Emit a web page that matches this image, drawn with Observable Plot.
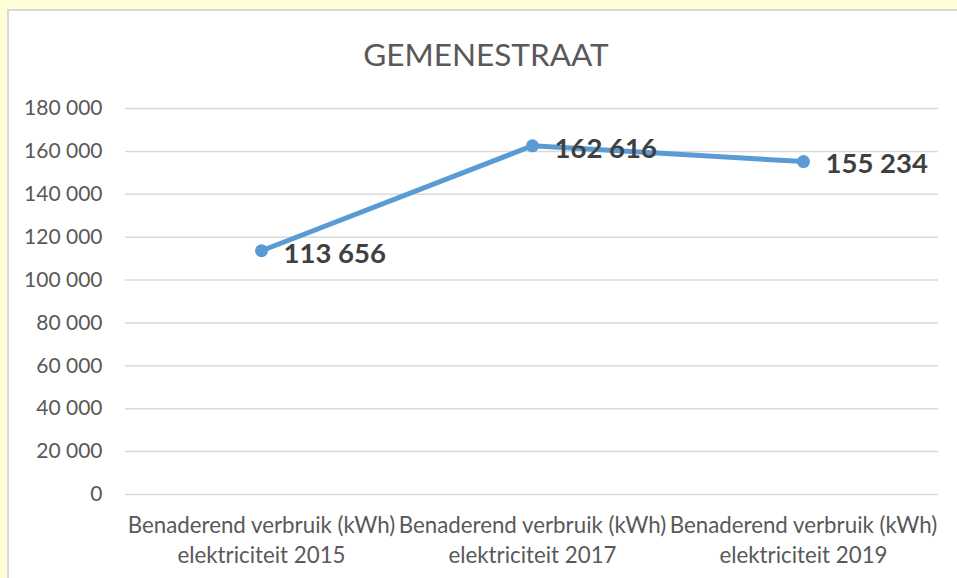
<!DOCTYPE html>
<html><head><meta charset="utf-8">
<script src="https://cdn.jsdelivr.net/npm/d3@7"></script>
<script src="https://cdn.jsdelivr.net/npm/@observablehq/plot@0.6"></script>
<style>
html,body{margin:0;padding:0;background:#FFFFD7;width:957px;height:578px;overflow:hidden;position:relative;}
#panel{position:absolute;left:7px;top:9px;width:980px;height:600px;background:#fff;border:2px solid #d9d9d9;box-sizing:border-box;}
#title{position:absolute;left:0;width:972px;top:35px;height:38px;line-height:38px;text-align:center;font-family:Lato,sans-serif;font-size:31.5px;color:#595959;}
#chart{position:absolute;left:0;top:0;}
</style>
</head><body>
<div id="panel"></div>
<div id="title">GEMENESTRAAT</div>
<div id="chart"></div>
<script>
const title = "GEMENESTRAAT";
const categories = [
  "Benaderend verbruik (kWh)\nelektriciteit 2015",
  "Benaderend verbruik (kWh)\nelektriciteit 2017",
  "Benaderend verbruik (kWh)\nelektriciteit 2019"
];
const values = [113656, 162616, 155234];
const yTicks = [0, 20000, 40000, 60000, 80000, 100000, 120000, 140000, 160000, 180000];

const fmt = d => d3.format(",")(d).replace(/,/g, " ");
const data = categories.map((c, i) => ({category: c, value: values[i]}));

const chart = Plot.plot({
  width: 957,
  height: 578,
  marginLeft: 125,
  marginRight: 19,
  marginTop: 108,
  marginBottom: 84,
  style: {background: "transparent", fontFamily: "Lato, sans-serif", color: "#595959"},
  x: {type: "point", domain: categories, padding: 0.5},
  y: {domain: [0, 180000]},
  marks: [
    Plot.gridY(yTicks, {stroke: "#d9d9d9", strokeOpacity: 1, strokeWidth: 1.5}),
    Plot.axisY(yTicks, {tickSize: 0, tickPadding: 23, tickFormat: fmt, fontSize: 21, label: null}),
    Plot.axisX({tickSize: 0, tickPadding: 17, fontSize: 22.3, lineHeight: 1.36, label: null}),
    Plot.line(data, {x: "category", y: "value", stroke: "#5B9BD5", strokeWidth: 5, strokeLinecap: "round"}),
    Plot.dot(data, {x: "category", y: "value", r: 6.5, fill: "#5B9BD5"}),
    Plot.text(data, {x: "category", y: "value", text: d => fmt(d.value), dx: 22, dy: 3, textAnchor: "start", fontSize: 27.5, fontWeight: "bold", fill: "#404040"})
  ]
});
document.getElementById("chart").appendChild(chart);
</script>
</body></html>
